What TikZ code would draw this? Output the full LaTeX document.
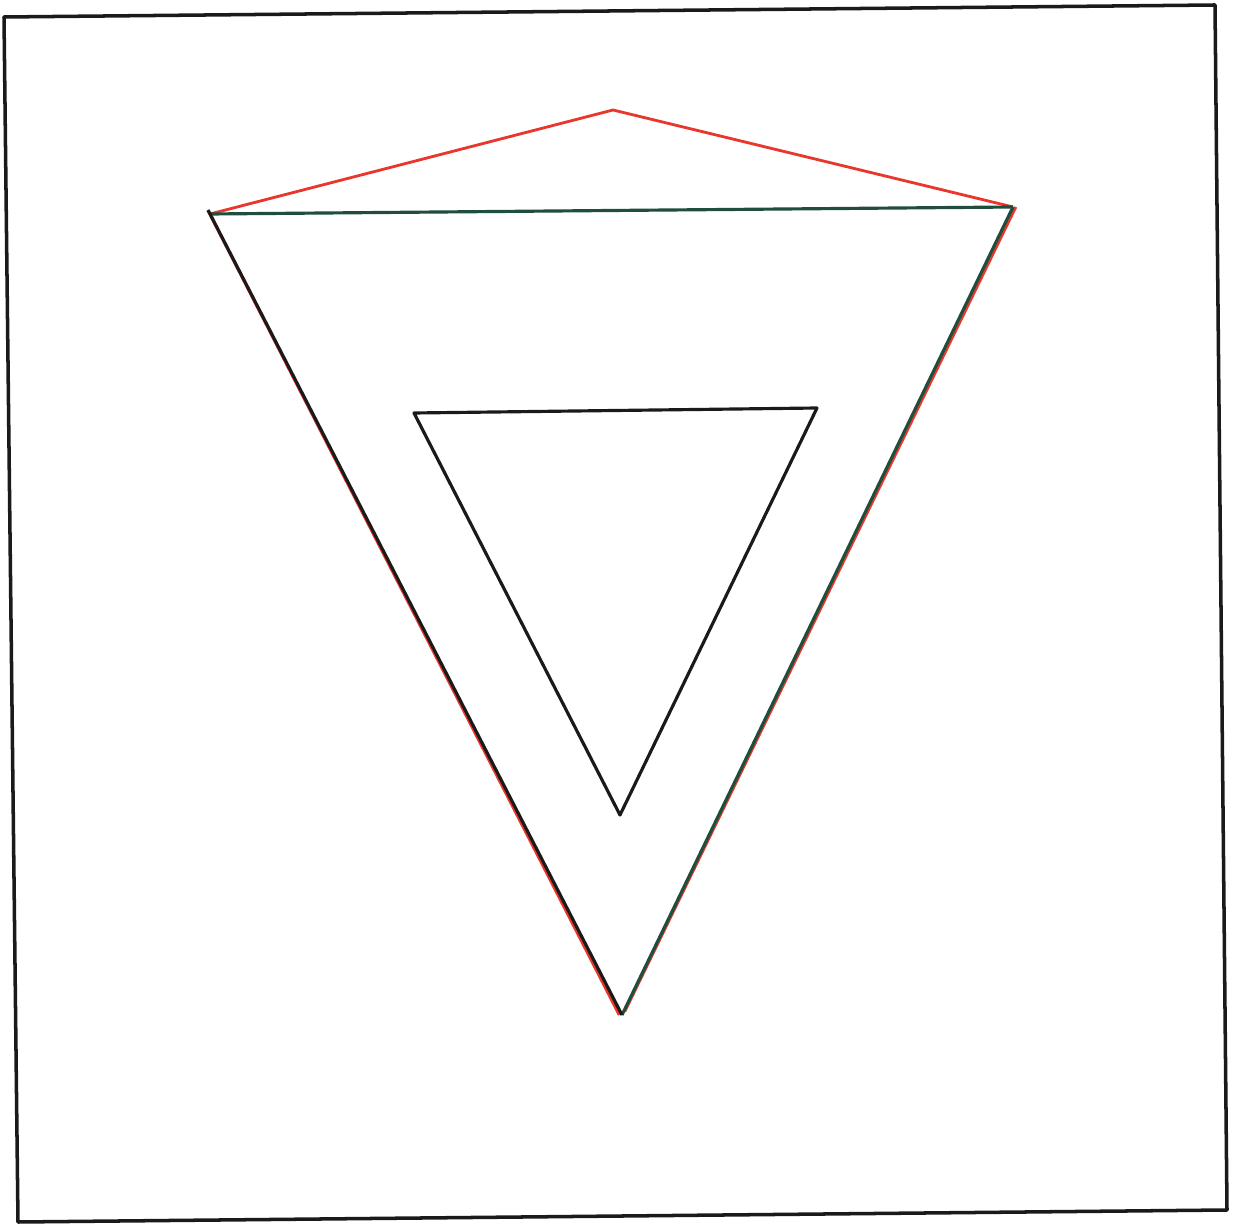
\documentclass[tikz,border=0pt]{standalone}
\usepackage{tikz}
\definecolor{pred}{HTML}{E8372C}
\definecolor{pgreen}{HTML}{1F4E3D}
\definecolor{pblack}{HTML}{1A1A1A}
\tikzset{
  penblack/.style={draw=pblack, line width=0.9pt, line join=round},
  penred/.style={draw=pred, line width=0.8pt, line join=round},
  pengreen/.style={draw=pgreen, line width=0.9pt, line join=round},
}

\begin{document}
\begin{tikzpicture}[x=0.01cm, y=-0.01cm]

  \useasboundingbox (0,0) rectangle (1236,1225);

  % frame
  \coordinate (ftl) at (4,17);
  \coordinate (ftr) at (1215,5);
  \coordinate (fbr) at (1227,1210);
  \coordinate (fbl) at (18,1222);
  \draw[penblack, line width=1pt] (ftl) -- (ftr) -- (fbr) -- (fbl) -- cycle;

  % outer triangle
  \coordinate (A) at (210,214);
  \coordinate (B) at (1013,207);
  \coordinate (C) at (622,1015);
  \coordinate (P) at (613,110);

  \draw[penred] (A) -- (P) -- (B);
  \draw[penred] ([xshift=0.8]B) -- ([xshift=0.8,yshift=1]C);
  \draw[penred] ([xshift=-0.6,yshift=1]A) -- ([xshift=-0.8]C);
  \draw[pengreen] (A) -- (B);
  \draw[pengreen] (B) -- (C);
  \draw[penblack] ([shift={(-2,-4)}]A) -- (C);

  % inner triangle
  \coordinate (a) at (414,413);
  \coordinate (b) at (817,408);
  \coordinate (c) at (620,815);
  \draw[penblack] (a) -- (b) -- (c) -- cycle;

\end{tikzpicture}
\end{document}
